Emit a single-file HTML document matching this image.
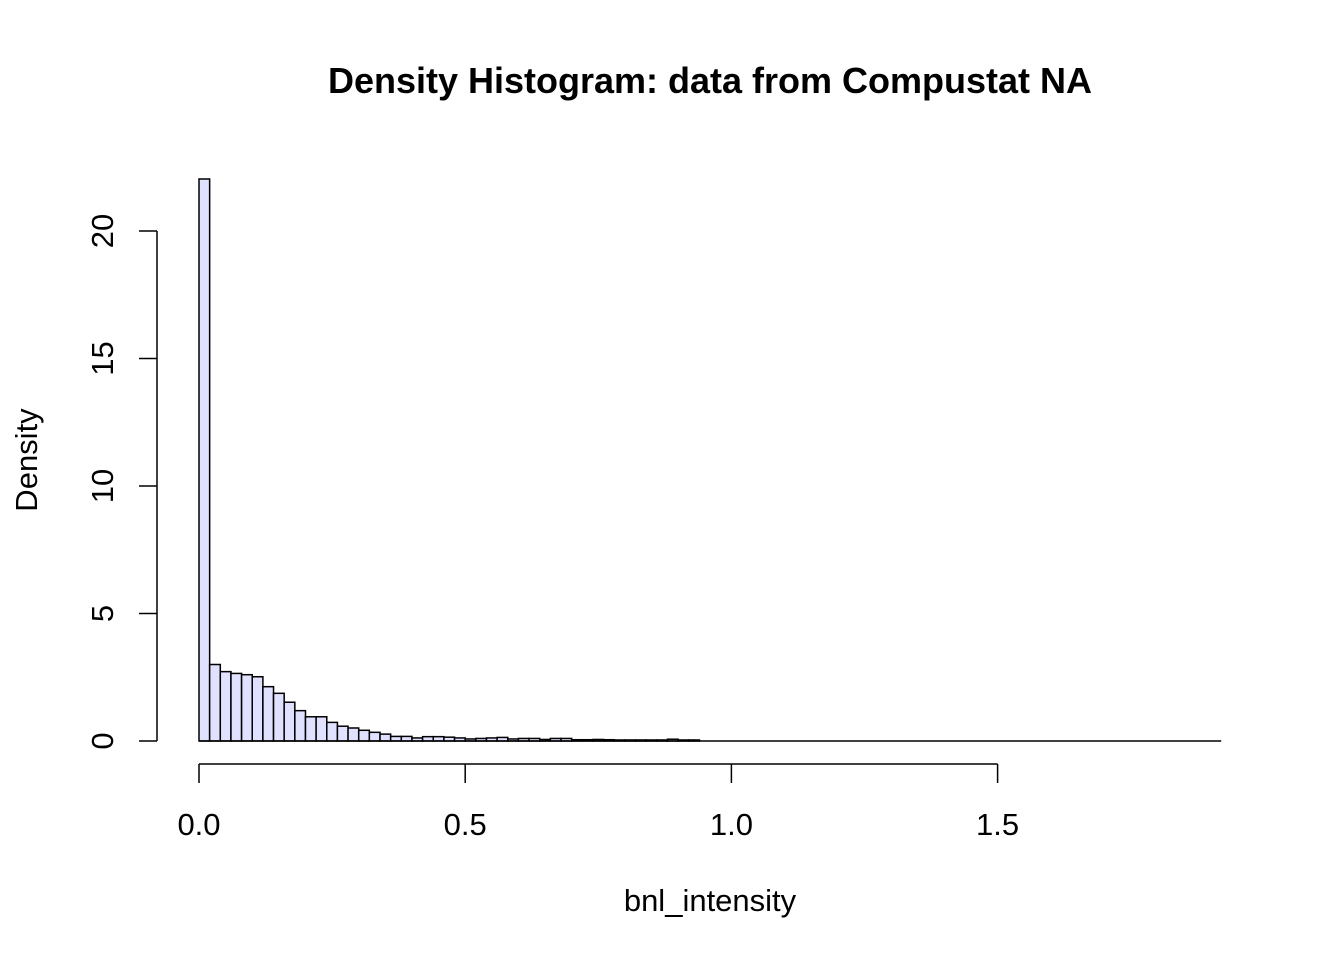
<!DOCTYPE html>
<html><head><meta charset="utf-8"><style>body{margin:0;background:#fff}svg text{font-family:"Liberation Sans",Arial,sans-serif}</style></head>
<body>
<svg id="chart" width="1344" height="960" xmlns="http://www.w3.org/2000/svg">
<text x="710" y="93" font-size="36" font-weight="bold" text-anchor="middle">Density Histogram: data from Compustat NA</text>
<text x="710" y="911" font-size="31" text-anchor="middle">bnl_intensity</text>
<text transform="translate(37,460) rotate(-90)" font-size="31" text-anchor="middle">Density</text>
<g id="bars"></g><g id="axes"></g>
</svg>
<script>
const binWidth = 0.02;
const densities = [22.04,3.0,2.72,2.65,2.6,2.52,2.13,1.87,1.52,1.19,0.95,0.95,0.73,0.58,0.51,0.42,0.34,0.27,0.18,0.18,0.12,0.17,0.17,0.15,0.12,0.08,0.1,0.12,0.14,0.08,0.1,0.1,0.06,0.1,0.1,0.05,0.05,0.06,0.05,0.04,0.04,0.04,0.04,0.04,0.07,0.04,0.04,0,0,0,0,0,0,0,0,0,0,0,0,0,0,0,0,0,0,0,0,0,0,0,0,0,0,0,0,0,0,0,0,0,0,0,0,0,0,0,0,0,0,0,0,0,0,0,0,0];
const xTicks = [0,0.5,1.0,1.5];
const xTickLabels = ["0.0","0.5","1.0","1.5"];
const yTicks = [0,5,10,15,20];
const yTickLabels = ["0","5","10","15","20"];
const sx = v => 199 + v*532.4;
const sy = v => 741 - v*25.5;
const NS="http://www.w3.org/2000/svg";
const bars=document.getElementById('bars'), axes=document.getElementById('axes');
densities.forEach((d,i)=>{
  const r=document.createElementNS(NS,'rect');
  
  
  r.setAttribute('x',sx(i*binWidth));r.setAttribute('y',sy(d));
  r.setAttribute('width',sx(binWidth)-sx(0));r.setAttribute('height',Math.max(0,sy(0)-sy(d)));
  r.setAttribute('fill','#e0e0ff');r.setAttribute('stroke','#000');r.setAttribute('stroke-width','1.5');
  bars.appendChild(r);
});
function line(x1,y1,x2,y2,name){const l=document.createElementNS(NS,'line');
  
  
  l.setAttribute('x1',x1);l.setAttribute('y1',y1);l.setAttribute('x2',x2);l.setAttribute('y2',y2);
  l.setAttribute('stroke','#000');l.setAttribute('stroke-width','1.5');axes.appendChild(l);}
function txt(x,y,s,rot,name){const t=document.createElementNS(NS,'text');
  
  
  t.setAttribute('font-size','31');t.setAttribute('text-anchor','middle');
  if(rot){t.setAttribute('transform',`translate(${x},${y}) rotate(-90)`);}else{t.setAttribute('x',x);t.setAttribute('y',y);}
  t.textContent=s;axes.appendChild(t);}
line(sx(0),sy(0),sx(densities.length*binWidth),sy(0),'histogram-baseline');
line(sx(xTicks[0]),764,sx(xTicks[xTicks.length-1]),764,'x-axis-line');
xTicks.forEach((v,i)=>{line(sx(v),764,sx(v),783,'x-tick');txt(sx(v),835,xTickLabels[i],false,'x-tick-label');});
line(157,sy(yTicks[0]),157,sy(yTicks[yTicks.length-1]),'y-axis-line');
yTicks.forEach((v,i)=>{line(157,sy(v),139,sy(v),'y-tick');txt(113,sy(v),yTickLabels[i],true,'y-tick-label');});
</script>
</body></html>
